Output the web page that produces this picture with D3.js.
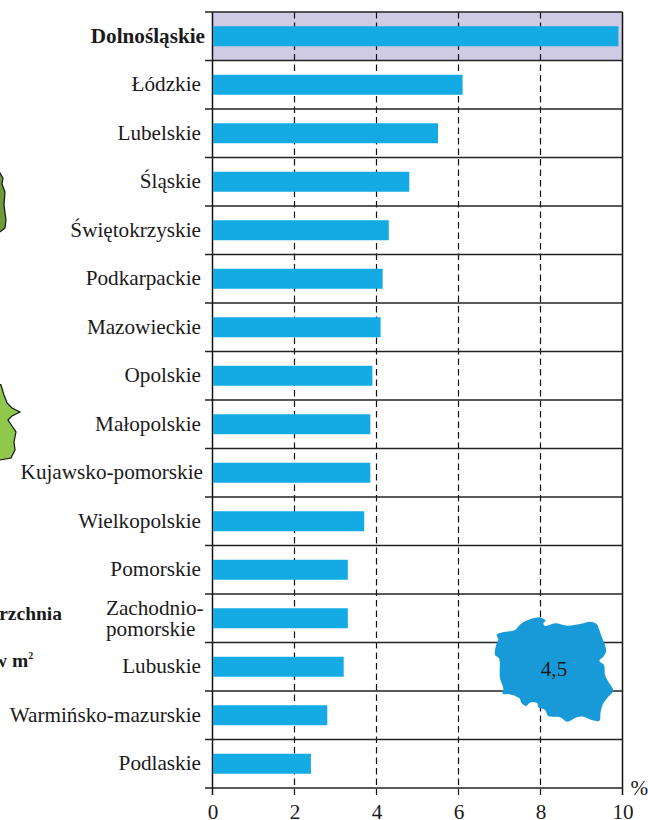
<!DOCTYPE html>
<html><head><meta charset="utf-8">
<script src="https://cdn.jsdelivr.net/npm/d3@7"></script>
<style>html,body{margin:0;padding:0;background:#fff;overflow:hidden}svg{display:block}text{font-family:"Liberation Serif",serif;fill:#1a1a1a}</style>
</head><body><svg id="c" width="648" height="820"></svg>
<script>
const categories=["Dolnośląskie","Łódzkie","Lubelskie","Śląskie","Świętokrzyskie","Podkarpackie","Mazowieckie","Opolskie","Małopolskie","Kujawsko-pomorskie","Wielkopolskie","Pomorskie","Zachodnio-pomorskie","Lubuskie","Warmińsko-mazurskie","Podlaskie"];
const values=[9.9,6.1,5.5,4.8,4.3,4.15,4.1,3.9,3.85,3.85,3.7,3.3,3.3,3.2,2.8,2.4];
const xTicks=[0,2,4,6,8,10];
const highlighted="Dolnośląskie";
const nationalLabel="4,5";
const polandOutline=[[50,105],[68,97],[105,90],[122,72],[150,58],[180,52],[192,58],[197,62],[190,70],[196,78],[225,70],[262,77],[300,72],[330,65],[350,72],[358,90],[365,110],[375,135],[378,155],[370,170],[358,182],[372,195],[375,225],[385,245],[400,272],[385,290],[370,310],[362,335],[358,362],[335,360],[310,350],[290,352],[262,365],[240,352],[205,348],[195,330],[175,322],[172,310],[150,308],[138,318],[125,310],[118,295],[85,282],[68,282],[70,265],[60,235],[57,175],[45,165],[50,130],[55,118]];
const darkSliver=[[-3,172],[0,173],[3,178],[2,184],[5,192],[4,205],[6,220],[5,228],[0,232],[-3,232]];
const lightSliver=[[-3,383],[1,385],[4,395],[7,403],[12,408],[20,412],[12,416],[8,420],[12,426],[16,432],[14,442],[15,450],[11,458],[0,460],[-3,460]];

const svg=d3.select("#c");
const x=d3.scaleLinear().domain([0,10]).range([212.5,622.5]);
const y=d3.scaleBand().domain(categories).range([12,788]);
const lineC="#222";
const fs=21.2;

svg.append("rect").attr("x",x(0)).attr("y",y(highlighted)).attr("width",x(10)-x(0)).attr("height",y.bandwidth()).attr("fill","#cfcbe5");

// gridlines (behind bars)
svg.selectAll("line.grid").data(xTicks).join("line").attr("class","grid")
 .attr("x1",d=>x(d)).attr("x2",d=>x(d)).attr("y1",12).attr("y2",795)
 .attr("stroke","#111").attr("stroke-width",d=>(d===0||d===10)?1.5:1.2)
 .attr("stroke-dasharray",d=>(d===0||d===10)?null:"6.5 4");

// horizontal row rules
const rules=categories.map(c=>y(c)).concat([788]);
svg.selectAll("line.rule").data(rules).join("line").attr("class","rule")
 .attr("x1",205).attr("x2",x(10)).attr("y1",d=>d).attr("y2",d=>d)
 .attr("stroke",lineC).attr("stroke-width",1.3);

// bars
svg.selectAll("rect.bar").data(values).join("rect").attr("class","bar")
 .attr("x",x(0)+0.5).attr("y",(d,i)=>y(categories[i])+y.bandwidth()/2-10)
 .attr("width",d=>x(d)-x(0)-0.5).attr("height",20).attr("fill","#14aae4");

// x axis labels
const ax=svg.append("g").attr("transform","translate(0,795)")
 .call(d3.axisBottom(x).tickValues(xTicks).tickSize(0).tickFormat(d3.format("d")));
ax.select(".domain").remove();
ax.selectAll("text").attr("font-size",fs).attr("font-family","Liberation Serif").attr("fill","#1a1a1a").attr("dy",null).attr("y",24);

svg.append("text").attr("x",630.5).attr("y",795).attr("font-size",fs).text("%");

// category labels
const labelG=svg.selectAll("g.lab").data(categories).join("g").attr("class","lab")
 .attr("transform",c=>`translate(0,${y(c)+y.bandwidth()/2})`);
labelG.each(function(c){
  const g=d3.select(this);
  if(c==="Zachodnio-pomorskie"){
    g.append("text").attr("x",106).attr("y",-3.5).attr("font-size",fs).text("Zachodnio-");
    g.append("text").attr("x",106).attr("y",18).attr("font-size",fs).text("pomorskie");
  } else if(c===highlighted){
    g.append("text").attr("x",205).attr("y",6.5).attr("text-anchor","end").attr("font-size",fs).attr("font-weight","bold").text(c);
  } else {
    g.append("text").attr("x",c==="Kujawsko-pomorskie"?203:201).attr("y",6.5).attr("text-anchor","end").attr("font-size",fs).text(c);
  }
});

// Poland inset
const insetX=d3.scaleLinear().domain([0,504]).range([480,648]);
const insetY=d3.scaleLinear().domain([0,660]).range([600,820]);
const area=d3.line().x(d=>insetX(d[0])).y(d=>insetY(d[1])).curve(d3.curveCatmullRomClosed.alpha(.5));
svg.append("path").datum(polandOutline).attr("d",area).attr("fill","#1899d8");
svg.append("text").attr("x",554).attr("y",676).attr("text-anchor","middle").attr("font-size",fs).text(nationalLabel);

// cropped neighbouring map fragments
const plain=d3.line().x(d=>d[0]).y(d=>d[1]).curve(d3.curveLinearClosed);
svg.append("path").datum(darkSliver).attr("d",plain).attr("fill","#6f9a38").attr("stroke","#111").attr("stroke-width",1.2);
svg.append("path").datum(lightSliver).attr("d",plain).attr("fill","#8fc84a").attr("stroke","#111").attr("stroke-width",1.2);

// cropped legend text
svg.append("text").attr("x",62).attr("y",620).attr("text-anchor","end").attr("font-size",19.5).attr("font-weight","bold").text("rzchnia");
const t=svg.append("text").attr("y",667).attr("font-size",19.5).attr("font-weight","bold");
t.append("tspan").attr("x",-7).text("w m");
t.append("tspan").attr("font-size",10).attr("dy",-8).text("2");
</script></body></html>
